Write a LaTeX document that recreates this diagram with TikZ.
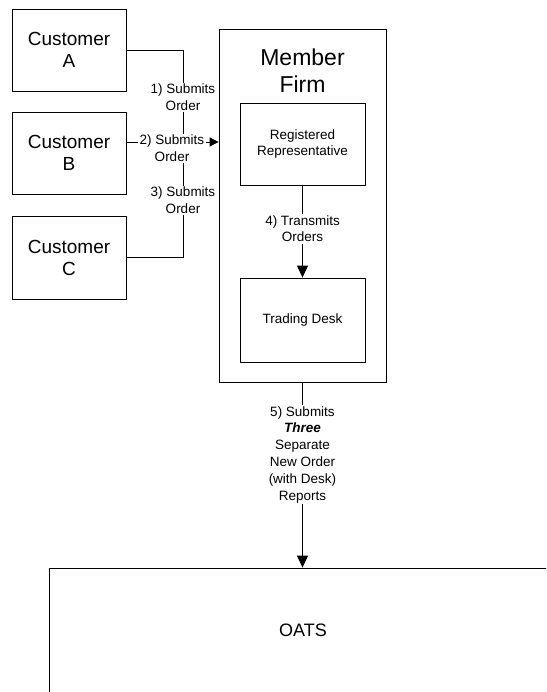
\documentclass[tikz,border=0pt]{standalone}
\usepackage{fontspec}
\setmainfont{Liberation Sans}
\usetikzlibrary{arrows.meta}

\begin{document}
\begin{tikzpicture}[x=1pt, y=-1pt,
    box/.style={draw, line width=0.8pt, align=center, inner sep=0pt},
    big/.style={font=\fontsize{19}{22}\selectfont},
    small/.style={font=\fontsize{13.5}{16.8}\selectfont, align=center},
    lbl/.style={small, fill=white, inner sep=1.5pt},
    wire/.style={line width=0.8pt},
    arr/.style={wire, -{Triangle[length=9pt, width=9pt]}},
    bigarr/.style={line width=1pt, -{Triangle[length=12pt, width=11pt]}}]
    \useasboundingbox (0,0) rectangle (546,692);

    % Customers
    \node[box, big, minimum width=114pt, minimum height=82pt] (custA) at (69,50) {Customer\\A};
    \node[box, big, minimum width=114pt, minimum height=82pt] (custB) at (69,153) {Customer\\B};
    \node[box, big, minimum width=114pt, minimum height=83pt] (custC) at (69,257.5) {Customer\\C};

    % Member firm
    \node[box, minimum width=167pt, minimum height=353pt] (firm) at (302.5,205.5) {};
    \node[font=\fontsize{23}{27}\selectfont, align=center] (firmTitle) at (302.5,71) {Member\\Firm};
    \node[box, small, minimum width=125pt, minimum height=82pt] (rep) at (302.5,144) {Registered\\Representative};
    \node[box, small, minimum width=125pt, minimum height=84pt] (desk) at (302.5,320) {Trading Desk};

    % OATS (runs off the page)
    \begin{scope}
        \clip (0,0) rectangle (546,692);
        \node[box, font=\fontsize{18}{21}\selectfont, minimum width=508pt, minimum height=124pt] (oats) at (303,630) {OATS};
    \end{scope}

    % Orders from the customers
    \draw[wire] (custA.east) -- ++(57,0) |- (custC.east);
    \coordinate (bOut) at ([yshift=11pt]custB.east);
    \draw[arr] (bOut) -- (bOut -| firm.west);
    \node[lbl] (sub1) at (183,97.5) {1) Submits\\Order};
    \node[lbl] (sub2) at (172,148.5) {2) Submits\\Order};
    \node[lbl] (sub3) at (183,200.5) {3) Submits\\Order};

    % Inside the firm
    \draw[bigarr] (rep) -- (desk) node[lbl, pos=0.47] {4) Transmits\\Orders};

    % Reports to OATS
    \draw[bigarr] (firm.south) -- (firm.south |- oats.north)
        node[lbl, pos=0.39] {5) Submits\\\textbf{\textit{Three}}\\Separate\\New Order\\(with Desk)\\Reports};
\end{tikzpicture}
\end{document}
